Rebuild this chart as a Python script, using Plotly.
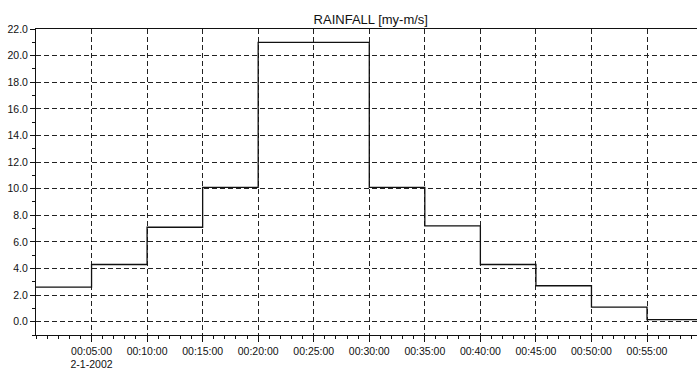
import plotly.graph_objects as go

# Data: rainfall step series (value holds from each time until the next)
times = ["00:00:00", "00:05:00", "00:10:00", "00:15:00", "00:20:00", "00:25:00",
         "00:30:00", "00:35:00", "00:40:00", "00:45:00", "00:50:00", "00:55:00", "01:00:00"]
rainfall = [2.6, 4.3, 7.1, 10.1, 21.0, 21.0, 10.1, 7.2, 4.3, 2.7, 1.1, 0.15, 0.15]

date = "2002-01-02"
tick_times = ["00:05:00", "00:10:00", "00:15:00", "00:20:00", "00:25:00", "00:30:00",
              "00:35:00", "00:40:00", "00:45:00", "00:50:00", "00:55:00"]
tick_labels = ["00:05:00<br>2-1-2002"] + tick_times[1:]
y_ticks = [0, 2, 4, 6, 8, 10, 12, 14, 16, 18, 20, 22]
y_minor = [-1, 1, 3, 5, 7, 9, 11, 13, 15, 17, 19, 21]

x = [f"{date} {t}" for t in times]
x[-1] = "2002-01-02 01:00:00"

fig = go.Figure()
fig.add_trace(go.Scatter(
    x=x, y=rainfall, mode="lines", line_shape="hv",
    line=dict(color="#111111", width=1.3), showlegend=False, hoverinfo="skip"))

font = "Liberation Sans, Arial, sans-serif"
fig.update_layout(
    width=697, height=369,
    margin=dict(l=36, r=0, t=29, b=34),
    paper_bgcolor="white", plot_bgcolor="white",
    title=dict(text="RAINFALL [my-m/s]", x=0.532, xanchor="center", y=1 - 19 / 369,
               yanchor="middle", font=dict(family=font, size=13, color="#111111")),
    font=dict(family=font, color="#111111"),
)
fig.update_xaxes(
    type="date",
    range=[f"{date} 00:00:00", f"{date} 00:59:30"],
    tickvals=[f"{date} {t}" for t in tick_times], ticktext=tick_labels,
    tickfont=dict(size=10.5, family=font, color="#111111"),
    showgrid=True, gridcolor="#222222", griddash="5px,3px", gridwidth=1,
    showline=True, linecolor="#111111", linewidth=1, mirror=True,
    ticks="outside", ticklen=6, tickcolor="#111111",
    minor=dict(dtick=60000, ticks="outside", ticklen=3, tickcolor="#111111", showgrid=False),
    zeroline=False,
)
fig.update_yaxes(
    range=[-1, 22],
    tickvals=y_ticks, ticktext=[f"{v:.1f}" for v in y_ticks],
    tickfont=dict(size=10.5, family=font, color="#111111"),
    showgrid=True, gridcolor="#222222", griddash="5px,3px", gridwidth=1,
    showline=True, linecolor="#111111", linewidth=1,
    ticks="outside", ticklen=5, tickcolor="#111111",
    minor=dict(tickvals=y_minor, ticks="outside",
               ticklen=3, tickcolor="#111111", showgrid=False),
    zeroline=False,
)
fig.write_html("out.html")
